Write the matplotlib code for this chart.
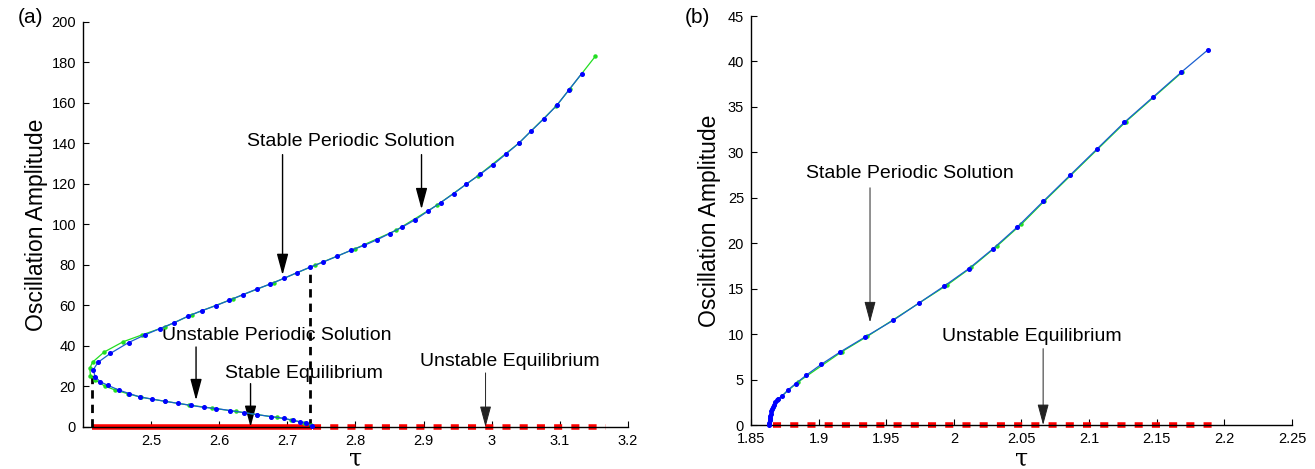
import numpy as np
import matplotlib
matplotlib.use('Agg')
import matplotlib.pyplot as plt

plt.rcParams['font.family'] = ['Liberation Sans', 'DejaVu Sans']

# ---- panel (a) data ----
blue_tau_a = [2.736, 2.727, 2.718, 2.708, 2.695, 2.676, 2.656, 2.636, 2.616, 2.596,
              2.577, 2.558, 2.539, 2.520, 2.501, 2.484, 2.468, 2.453, 2.437, 2.425,
              2.418, 2.415, 2.422, 2.440, 2.467, 2.491, 2.513, 2.534, 2.554, 2.574,
              2.595, 2.615, 2.635, 2.655, 2.675, 2.695, 2.714, 2.734, 2.753, 2.773,
              2.793, 2.813, 2.832, 2.850, 2.869, 2.888, 2.906, 2.925, 2.944, 2.963,
              2.983, 3.002, 3.021, 3.040, 3.058, 3.077, 3.096, 3.113, 3.132]
blue_amp_a = [0.6, 2.0, 2.6, 3.3, 4.3, 5.1, 6.1, 7.1, 8.1, 9.1,
              9.7, 10.7, 11.7, 12.7, 13.8, 14.8, 16.5, 18.2, 20.5, 22.4,
              24.8, 28.2, 31.9, 36.3, 41.7, 45.5, 48.6, 51.5, 54.7, 57.4,
              59.9, 62.6, 65.4, 68.1, 70.6, 73.4, 76.2, 79.0, 81.5, 84.3,
              87.2, 89.7, 92.5, 95.5, 98.8, 102.4, 106.5, 110.8, 115.2, 120.0,
              124.8, 129.5, 134.8, 140.2, 146.2, 152.3, 159.0, 166.3, 174.5]
green_tau_a = [2.735, 2.725, 2.705, 2.685, 2.655, 2.625, 2.590, 2.555, 2.520, 2.485,
               2.466, 2.447, 2.432, 2.418, 2.411, 2.410, 2.414, 2.431, 2.459, 2.486,
               2.520, 2.560, 2.620, 2.680, 2.740, 2.800, 2.860, 2.920, 2.980, 3.040,
               3.095, 3.115, 3.152]
green_amp_a = [1.0, 2.1, 3.5, 4.7, 6.15, 7.65, 9.3, 10.85, 12.7, 14.7,
               16.4, 18.3, 20.2, 23.2, 25.2, 29.0, 32.0, 37.0, 42.1, 45.4,
               49.4, 55.5, 63.3, 71.3, 79.8, 88.1, 97.2, 109.6, 124.1, 140.2,
               158.6, 167.1, 183.0]
fold_tau_a = 2.413
fold_amp_a = 28.8
hopf_tau_a = 2.734
hopf_amp_a = 79.0
red_solid_a = [2.413, 2.736]
red_dash_a = [2.738, 3.168]
xticks_a = [2.5, 2.6, 2.7, 2.8, 2.9, 3.0, 3.1, 3.2]
xlabels_a = ['2.5', '2.6', '2.7', '2.8', '2.9', '3', '3.1', '3.2']
yticks_a = [0, 20, 40, 60, 80, 100, 120, 140, 160, 180, 200]

# ---- panel (b) data ----
blue_tau_b = [1.8635, 1.8636, 1.8637, 1.8639, 1.8642, 1.8646, 1.8650, 1.8656, 1.8662,
              1.8669, 1.8677, 1.8690, 1.8700, 1.8730, 1.8770, 1.8830, 1.8910, 1.9020,
              1.9160, 1.9340, 1.9550, 1.9740, 1.9930, 2.0110, 2.0290, 2.0470, 2.0660,
              2.0860, 2.1060, 2.1260, 2.1470, 2.1680, 2.1880]
blue_amp_b = [0.0, 0.25, 0.5, 0.75, 1.0, 1.25, 1.5, 1.75, 2.0,
              2.25, 2.5, 2.7, 2.9, 3.16, 3.82, 4.55, 5.5, 6.68,
              8.04, 9.65, 11.5, 13.4, 15.3, 17.2, 19.4, 21.8, 24.6,
              27.5, 30.4, 33.3, 36.05, 38.8, 41.3]
green_tau_b = [1.8640, 1.8700, 1.8850, 1.9170, 1.9360, 1.9950, 2.0130, 2.0320,
               2.0500, 2.0670, 2.1270, 2.1690]
green_amp_b = [0.5, 2.85, 4.75, 8.05, 9.75, 15.4, 17.35, 19.7,
               22.1, 24.65, 33.35, 38.85]
red_dash_b = [1.866, 2.196]
xticks_b = [1.85, 1.9, 1.95, 2.0, 2.05, 2.1, 2.15, 2.2, 2.25]
xlabels_b = ['1.85', '1.9', '1.95', '2', '2.05', '2.1', '2.15', '2.2', '2.25']
yticks_b = [0, 5, 10, 15, 20, 25, 30, 35, 40, 45]

fig = plt.figure(figsize=(13.15, 4.69), dpi=100)
ax_a = fig.add_axes([0.0631, 0.0896, 0.4144, 0.8635])
ax_b = fig.add_axes([0.5711, 0.0938, 0.4114, 0.8720])

arrow_kw = dict(arrowstyle='-|>,head_length=1.3,head_width=0.35', color='black', lw=1.0,
                shrinkA=0, shrinkB=0)
thin_arrow_kw = dict(arrowstyle='-|>,head_length=1.3,head_width=0.35', color='#222222', lw=0.7,
                     shrinkA=0, shrinkB=0)
txt_size = 14


def style_axes(ax):
    for s in ['top', 'right']:
        ax.spines[s].set_visible(False)
    ax.spines['left'].set_linewidth(1.0)
    ax.spines['bottom'].set_linewidth(1.0)
    ax.tick_params(direction='in', length=4, width=0.8, labelsize=10.5, pad=5)
    ax.set_ylabel('Oscillation Amplitude', fontsize=16.5)
    ax.set_xlabel('τ', fontsize=17, family='DejaVu Serif')
    ax.xaxis.label.set_va('baseline')


# panel (a)
ax = ax_a
ax.plot(red_solid_a, [0, 0], color='red', lw=4.0, solid_capstyle='butt', zorder=2, clip_on=False)
ax.plot(red_dash_a, [0, 0], color='red', lw=4.0, dashes=(1.45, 1.65), dash_capstyle='butt',
        zorder=2, clip_on=False)
ax.plot([fold_tau_a, fold_tau_a], [0, fold_amp_a], color='black', lw=2, dashes=(3, 2.2), zorder=3,
        clip_on=False)
ax.plot([hopf_tau_a, hopf_tau_a], [0, hopf_amp_a], color='black', lw=2, dashes=(3, 2.2), zorder=3,
        clip_on=False)
ax.plot(green_tau_a, green_amp_a, color='#22dd22', lw=0.9, marker='o', ms=2.2, zorder=4)
ax.plot(blue_tau_a, blue_amp_a, color='#1a5fd0', lw=0.9, zorder=5)
ax.plot(blue_tau_a, blue_amp_a, ls='none', marker='o', ms=2.6, color='#0000ff', zorder=6,
        clip_on=False)
ax.set_xlim(2.4, 3.2)
ax.set_ylim(0, 200)
ax.set_xticks(xticks_a)
ax.set_xticklabels(xlabels_a)
ax.set_yticks(yticks_a)
style_axes(ax)
ax.yaxis.set_label_coords(-0.064, 0.5)
ax.xaxis.set_label_coords(0.5, -0.094)

ax.text(2.793, 141, 'Stable Periodic Solution', fontsize=txt_size, ha='center', va='center')
ax.annotate('', xy=(2.693, 75), xytext=(2.693, 134.5), arrowprops=arrow_kw)
ax.annotate('', xy=(2.897, 107.5), xytext=(2.897, 134.5), arrowprops=arrow_kw)
ax.text(2.685, 45, 'Unstable Periodic Solution', fontsize=txt_size, ha='center', va='center')
ax.annotate('', xy=(2.566, 13.2), xytext=(2.566, 39.5), arrowprops=arrow_kw)
ax.text(2.724, 26.3, 'Stable Equilibrium', fontsize=txt_size, ha='center', va='center')
ax.annotate('', xy=(2.646, 0), xytext=(2.646, 21.4), arrowprops=arrow_kw)
ax.text(3.027, 32.4, 'Unstable Equilibrium', fontsize=txt_size, ha='center', va='center')
ax.annotate('', xy=(2.991, 0), xytext=(2.991, 26.7), arrowprops=thin_arrow_kw)

# panel (b)
ax = ax_b
ax.plot(red_dash_b, [0, 0], color='red', lw=4.0, dashes=(1.45, 1.65), dash_capstyle='butt',
        zorder=2, clip_on=False)
ax.plot(green_tau_b, green_amp_b, color='#22dd22', lw=0.9, marker='o', ms=2.2, zorder=4)
ax.plot(blue_tau_b, blue_amp_b, color='#1a5fd0', lw=0.9, zorder=5)
ax.plot(blue_tau_b, blue_amp_b, ls='none', marker='o', ms=2.6, color='#0000ff', zorder=6,
        clip_on=False)
ax.set_xlim(1.85, 2.25)
ax.set_ylim(0, 45)
ax.set_xticks(xticks_b)
ax.set_xticklabels(xlabels_b)
ax.set_yticks(yticks_b)
style_axes(ax)
ax.yaxis.set_label_coords(-0.055, 0.5)
ax.xaxis.set_label_coords(0.5, -0.098)

ax.text(1.9676, 27.7, 'Stable Periodic Solution', fontsize=txt_size, ha='center', va='center')
ax.annotate('', xy=(1.938, 11.3), xytext=(1.938, 26.1), arrowprops=thin_arrow_kw)
ax.text(2.0576, 9.77, 'Unstable Equilibrium', fontsize=txt_size, ha='center', va='center')
ax.annotate('', xy=(2.066, 0), xytext=(2.066, 8.4), arrowprops=thin_arrow_kw)

fig.text(0.0137, 0.962, '(a)', fontsize=15, ha='left', va='center')
fig.text(0.5205, 0.962, '(b)', fontsize=15, ha='left', va='center')

fig.savefig('out.png', dpi=100)
